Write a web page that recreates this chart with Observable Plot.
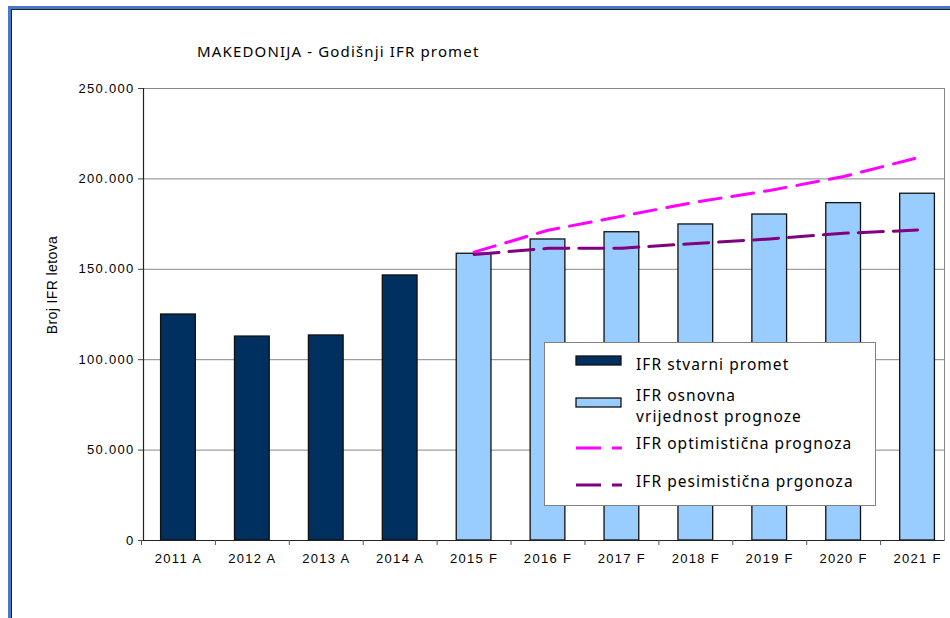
<!DOCTYPE html>
<html>
<head>
<meta charset="utf-8">
<script src="https://cdn.jsdelivr.net/npm/d3@7"></script>
<script src="https://cdn.jsdelivr.net/npm/@observablehq/plot@0.6"></script>
<style>
  html, body { margin: 0; padding: 0; background: #fff; overflow: hidden; }
  #wrap { position: relative; width: 950px; height: 618px; }
  #border1 { position: absolute; left: 8px; top: 6px; width: 960px; height: 630px;
             border-left: 3px solid #4a78c8; border-top: 3px solid #4a78c8; }
  #border2 { position: absolute; left: 11px; top: 9px; width: 960px; height: 630px;
             border-left: 1.5px solid #222; border-top: 1.5px solid #222; }
  #title { position: absolute; left: 197px; top: 41px; font-family: "Noto Sans", sans-serif;
           font-size: 15px; letter-spacing: 1.15px; color: #000; white-space: nowrap; }
  #ylabel { position: absolute; left: 52px; top: 285px; transform: translate(-50%, -50%) rotate(-90deg);
            font-family: "Liberation Sans", Arial, sans-serif; font-size: 14px; letter-spacing: 0.4px; color: #000; white-space: nowrap; }
  #legend { position: absolute; left: 544px; top: 342px; width: 330px; height: 162px;
            background: #fff; border: 1px solid #808080; font-family: "Noto Sans", sans-serif;
            font-size: 15.5px; letter-spacing: 1.05px; color: #000; }
  .ltext { position: absolute; left: 91px; white-space: nowrap; line-height: 21px; }
  svg.sw { position: absolute; left: 30px; }
  #chart { position: absolute; left: 0; top: 0; }
  #chart svg text { letter-spacing: 1.3px; }
</style>
</head>
<body>
<div id="wrap">
  <div id="chart"></div>
  <div id="border1"></div>
  <div id="border2"></div>
  <div id="title"></div>
  <div id="ylabel"></div>
  <div id="legend"></div>
</div>
<script>
// ---- data ----
const categories = ["2011 A","2012 A","2013 A","2014 A","2015 F","2016 F","2017 F","2018 F","2019 F","2020 F","2021 F"];
const actualCats = ["2011 A","2012 A","2013 A","2014 A"];
const actualValues = [125000, 112800, 113400, 146600];
const forecastCats = ["2015 F","2016 F","2017 F","2018 F","2019 F","2020 F","2021 F"];
const baseValues = [158600, 166500, 170500, 174800, 180300, 186600, 191800];
const optimisticValues = [159500, 171600, 179400, 187200, 193600, 201300, 211700];
const pessimisticValues = [158200, 161600, 161700, 164300, 166800, 169900, 171700];
const yTicks = [0, 50000, 100000, 150000, 200000, 250000];
const titleText = "MAKEDONIJA - Godišnji IFR promet";
const yLabelText = "Broj IFR letova";
const legendLabels = ["IFR stvarni promet", "IFR osnovna\nvrijednost prognoze", "IFR optimistična prognoza", "IFR pesimistična prgonoza"];

const colActual = "#00305f";
const colBase = "#99ccff";
const colOpt = "#ff00ff";
const colPes = "#800080";

// ---- tables ----
const barRows = [
  ...actualCats.map((c, i) => ({cat: c, value: actualValues[i], kind: "a"})),
  ...forecastCats.map((c, i) => ({cat: c, value: baseValues[i], kind: "f"}))
];
const lineRows = forecastCats.map((c, i) => ({cat: c, opt: optimisticValues[i], pes: pessimisticValues[i]}));

const fmt = d3.formatLocale({decimal: ",", thousands: ".", grouping: [3], currency: ["", ""]}).format(",");

const W = 950, H = 618;
const mL = 143, mR = 6, mT = 88, mB = 78;
const xRange = [141, 954];
const step = (xRange[1] - xRange[0]) / categories.length;

const chart = Plot.plot({
  width: W, height: H,
  marginLeft: mL, marginRight: mR, marginTop: mT, marginBottom: mB,
  style: {fontFamily: "'Liberation Sans', Arial, sans-serif", fontSize: "13px", color: "#000", background: "transparent"},
  x: {type: "band", domain: categories, range: xRange, paddingInner: 0.53, paddingOuter: 0.265, align: 0.5, round: false},
  y: {domain: [0, 250000], ticks: yTicks},
  marks: [
    Plot.gridY(yTicks, {stroke: "#868686", strokeOpacity: 1, strokeWidth: 1}),
    Plot.frame({stroke: "#868686"}),
    Plot.barY(barRows, {x: "cat", y: "value", fill: d => d.kind === "a" ? colActual : colBase,
      stroke: "#111", strokeWidth: 1.3}),
    Plot.line(lineRows, {x: "cat", y: "opt", stroke: colOpt, strokeWidth: 3, strokeDasharray: "22,11"}),
    Plot.line(lineRows, {x: "cat", y: "pes", stroke: colPes, strokeWidth: 3, strokeDasharray: "25,10"}),
    Plot.ruleY([0], {stroke: "#222", strokeWidth: 1.2}),
    Plot.frame({anchor: "left", stroke: "#222", strokeWidth: 1.2}),
    Plot.ruleX(categories, {x: d => d, y1: 0, y2: 0, dx: -step / 2, insetBottom: -5, stroke: "#555"}),
    Plot.axisY(yTicks, {tickSize: 5, tickPadding: 4, tickFormat: fmt, label: null, stroke: "#444", fontSize: 13}),
    Plot.axisX({tickSize: 0, tickPadding: 13, label: null, fontSize: 13})
  ]
});
document.getElementById("chart").appendChild(chart);

document.getElementById("title").textContent = titleText;
document.getElementById("ylabel").textContent = yLabelText;

// ---- legend ----
const legend = document.getElementById("legend");
const legendItems = [
  {type: "rect", fill: colActual, swY: 13, textY: 11},
  {type: "rect", fill: colBase, swY: 55, textY: 42},
  {type: "line", stroke: colOpt, swY: 100, textY: 90},
  {type: "line", stroke: colPes, swY: 137, textY: 128}
];
legendItems.forEach((it, i) => {
  const ns = "http://www.w3.org/2000/svg";
  const svg = document.createElementNS(ns, "svg");
  svg.setAttribute("class", "sw");
  svg.setAttribute("width", 50);
  svg.setAttribute("height", 13);
  svg.style.top = (it.swY - 1) + "px";
  if (it.type === "rect") {
    const r = document.createElementNS(ns, "rect");
    r.setAttribute("x", 1); r.setAttribute("y", 1); r.setAttribute("width", 45); r.setAttribute("height", 9);
    r.setAttribute("fill", it.fill); r.setAttribute("stroke", "#111"); r.setAttribute("stroke-width", 1.3);
    svg.appendChild(r);
  } else {
    const l = document.createElementNS(ns, "line");
    l.setAttribute("x1", 1); l.setAttribute("x2", 47); l.setAttribute("y1", 6); l.setAttribute("y2", 6);
    l.setAttribute("stroke", it.stroke); l.setAttribute("stroke-width", 3);
    l.setAttribute("stroke-dasharray", "25,11");
    svg.appendChild(l);
  }
  legend.appendChild(svg);
  const t = document.createElement("div");
  t.className = "ltext";
  t.style.top = it.textY + "px";
  t.innerHTML = legendLabels[i].split("\n").join("<br>");
  legend.appendChild(t);
});
</script>
</body>
</html>
